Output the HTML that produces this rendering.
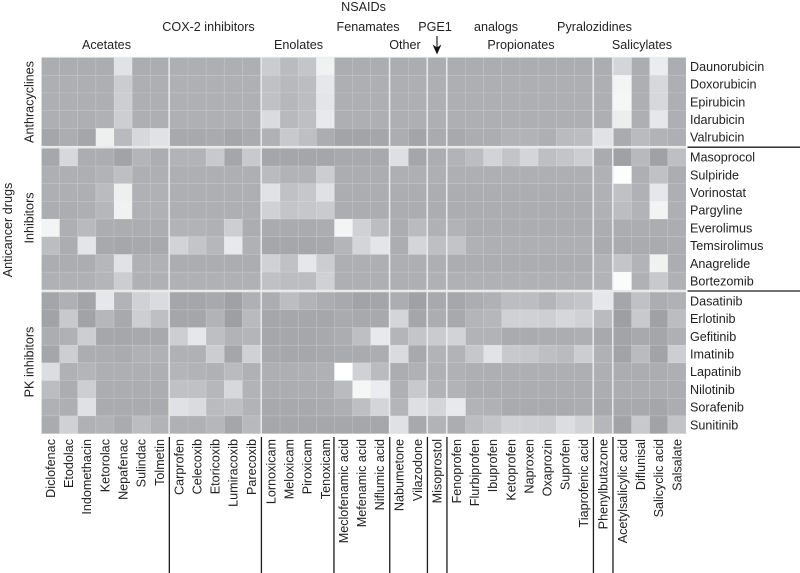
<!DOCTYPE html>
<html lang="en">
<head>
<meta charset="utf-8">
<title>Anticancer drugs and NSAIDs heatmap</title>
<style>
html,body{margin:0;padding:0;background:#fff;}
svg{display:block;font-family:"Liberation Sans",sans-serif;}
text{fill:#222;font-size:12.6px;}
</style>
</head>
<body>
<svg id="chart" width="800" height="573" viewBox="0 0 800 573" xmlns="http://www.w3.org/2000/svg">
  <g id="cells"></g>
  <g id="rules"></g>
  <g id="labels"></g>
  <g>
    <line x1="437" y1="36" x2="437" y2="50" stroke="#111" stroke-width="1.1"></line>
    <path d="M432.6 44.5 L437 54.5 L441.4 44.5 L437 47.5 Z" fill="#111"></path>
  </g>
</svg>
<script>
// Group sizes (number of members per group)
const columnGroupSizes = [7, 5, 7, 2, 1, 8, 1, 4];
const rowGroupSizes = [5, 8, 8];

const columnLabels = ["Diclofenac","Etodolac","Indomethacin","Ketorolac","Nepafenac","Sulindac","Tolmetin",
  "Carprofen","Celecoxib","Etoricoxib","Lumiracoxib","Parecoxib",
  "Lornoxicam","Meloxicam","Piroxicam","Tenoxicam","Meclofenamic acid","Mefenamic acid","Niflumic acid",
  "Nabumetone","Vilazodone","Misoprostol",
  "Fenoprofen","Flurbiprofen","Ibuprofen","Ketoprofen","Naproxen","Oxaprozin","Suprofen","Tiaprofenic acid",
  "Phenylbutazone","Acetylsalicylic acid","Diflunisal","Salicyclic acid","Salsalate"];
const rowLabels = ["Daunorubicin","Doxorubicin","Epirubicin","Idarubicin","Valrubicin",
  "Masoprocol","Sulpiride","Vorinostat","Pargyline","Everolimus","Temsirolimus","Anagrelide","Bortezomib",
  "Dasatinib","Erlotinib","Gefitinib","Imatinib","Lapatinib","Nilotinib","Sorafenib","Sunitinib"];

// Similarity values per drug (shade level)
const daunorubicin = [172,172,172,172,225,172,172, 174,174,174,174,174, 203,186,196,240, 172,172,172, 172,172, 172, 172,172,172,172,172,172,172,172, 172, 212,172,235,172];
const doxorubicin  = [174,174,174,174,203,174,174, 175,175,175,175,175, 192,184,188,230, 174,174,174, 174,174, 174, 174,174,174,174,174,174,174,174, 174, 243,174,215,174];
const epirubicin   = [174,174,174,174,205,174,174, 175,175,175,175,175, 192,182,188,228, 174,174,174, 174,174, 174, 174,174,174,174,174,174,174,174, 174, 245,174,215,174];
const idarubicin   = [174,174,174,176,205,174,174, 175,175,175,175,175, 218,184,190,232, 174,174,174, 174,174, 174, 174,174,174,174,174,174,174,174, 174, 236,174,230,174];
const valrubicin   = [165,172,165,238,185,215,225, 168,168,170,165,170, 176,200,190,172, 163,163,165, 172,164, 170, 168,172,172,178,178,174,186,188, 225, 170,186,178,174];
const masoprocol   = [166,215,172,172,162,180,172, 178,178,200,165,200, 165,165,165,165, 168,168,168, 222,165, 172, 178,188,210,195,212,190,196,205, 170, 160,184,160,190];
const sulpiride    = [174,174,174,178,190,174,174, 174,174,174,174,174, 186,178,178,204, 172,172,172, 174,174, 174, 174,174,174,174,174,174,174,174, 176, 252,174,192,172];
const vorinostat   = [174,174,174,186,238,176,176, 174,174,174,174,174, 225,192,198,224, 172,172,172, 172,172, 172, 172,172,172,172,172,172,172,172, 176, 192,176,230,174];
const pargyline    = [172,172,174,182,240,176,176, 174,174,174,174,174, 208,196,198,202, 172,172,172, 172,172, 172, 172,172,172,172,172,172,172,172, 176, 188,178,242,174];
const everolimus   = [243,174,185,172,172,172,172, 178,178,176,205,172, 170,170,170,172, 243,208,188, 172,186, 176, 178,172,172,172,172,172,172,172, 172, 172,172,172,172];
const temsirolimus = [188,172,228,168,166,168,168, 210,196,182,232,176, 166,166,166,168, 180,212,228, 172,212, 190, 195,176,174,174,174,174,174,174, 170, 170,170,170,172];
const anagrelide   = [172,172,172,182,225,176,176, 172,172,172,172,172, 208,192,230,204, 174,174,174, 174,174, 174, 172,172,172,172,172,172,172,172, 178, 196,178,240,172];
const bortezomib   = [176,176,176,180,204,176,176, 176,176,176,176,176, 192,188,188,208, 174,174,174, 174,174, 176, 176,176,176,176,176,176,176,176, 178, 250,176,200,176];
const dasatinib    = [164,175,163,230,178,208,218, 165,165,168,160,175, 172,188,178,172, 168,162,164, 172,160, 168, 166,172,176,188,188,180,192,196, 230, 165,192,172,176];
const erlotinib    = [162,200,162,182,168,205,190, 165,165,178,158,185, 166,166,166,166, 170,168,168, 212,165, 172, 168,180,182,208,208,206,214,208, 186, 158,200,160,188];
const gefitinib    = [172,176,205,166,166,168,168, 205,230,190,178,180, 166,166,166,168, 172,190,232, 180,196, 202, 210,178,178,170,170,172,172,174, 168, 163,168,165,175];
const imatinib     = [165,205,172,172,170,176,176, 176,176,204,165,208, 168,166,166,168, 170,170,172, 218,168, 178, 178,198,226,200,198,190,186,204, 176, 162,186,162,205];
const lapatinib    = [220,176,180,174,174,174,174, 180,178,176,186,176, 174,174,174,176, 255,208,186, 172,176, 176, 176,174,174,174,174,174,174,174, 174, 172,172,172,174];
const nilotinib    = [188,172,205,172,172,172,172, 192,192,182,215,178, 172,172,172,172, 186,245,235, 175,200, 178, 178,172,172,172,172,172,172,172, 172, 172,172,172,172];
const sorafenib    = [176,174,224,170,170,170,170, 224,218,186,190,178, 168,168,168,170, 174,190,212, 180,222, 212, 232,178,176,170,170,170,170,172, 168, 168,168,165,172];
const sunitinib    = [170,208,176,178,170,188,178, 176,176,182,165,184, 166,166,166,166, 166,166,166, 224,168, 178, 172,188,196,208,206,204,220,210, 182, 162,200,162,194];

const seriesByRow = [daunorubicin,doxorubicin,epirubicin,idarubicin,valrubicin,
  masoprocol,sulpiride,vorinostat,pargyline,everolimus,temsirolimus,anagrelide,bortezomib,
  dasatinib,erlotinib,gefitinib,imatinib,lapatinib,nilotinib,sorafenib,sunitinib];

const topGroupLabels = ["NSAIDs","COX-2 inhibitors","Fenamates","PGE1","analogs","Pyralozidines",
  "Acetates","Enolates","Other","Propionates","Salicylates"];
const rowGroupLabels = ["Anthracyclines","Inhibitors","PK inhibitors"];
const rowAxisTitle = "Anticancer drugs";

const NS = "http://www.w3.org/2000/svg";
const plot = {left: 41.5, right: 686, top: 57.6, bottom: 433.6, gap: 1.4};

function buildBand(groupSizes, start, end, gap) {
  const count = groupSizes.reduce((a, b) => a + b, 0);
  const step = (end - start - gap * (groupSizes.length - 1)) / count;
  const starts = [];
  let pos = start;
  const groupEnds = [];
  groupSizes.forEach((size, g) => {
    for (let i = 0; i < size; i++) { starts.push(pos); pos += step; }
    groupEnds.push(pos);
    if (g < groupSizes.length - 1) pos += gap;
  });
  return {step, starts, groupEnds};
}
const xBand = buildBand(columnGroupSizes, plot.left, plot.right, plot.gap);
const yBand = buildBand(rowGroupSizes, plot.top, plot.bottom, plot.gap + 1);

function xScale(col) { return xBand.starts[col]; }
function yScale(row) { return yBand.starts[row]; }
function colorScale(v) {
  const c = Math.max(0, Math.min(255, Math.round(v)));
  const tint = c > 235 ? 1 : 4;
  return "rgb(" + c + "," + Math.min(255, c + 1) + "," + Math.min(255, c + tint) + ")";
}

const cellsGroup = document.getElementById("cells");
const rulesGroup = document.getElementById("rules");
const labelsGroup = document.getElementById("labels");

const backing = document.createElementNS(NS, "rect");


backing.setAttribute("x", plot.left);
backing.setAttribute("y", plot.top - 0.8);
backing.setAttribute("width", plot.right - plot.left);
backing.setAttribute("height", plot.bottom - plot.top + 1.2);
backing.setAttribute("fill", "#e9e9ea");
cellsGroup.appendChild(backing);

seriesByRow.forEach((series, r) => {
  series.forEach((value, c) => {
    const cell = document.createElementNS(NS, "rect");
    
    
    cell.setAttribute("x", xScale(c));
    cell.setAttribute("y", yScale(r));
    cell.setAttribute("width", xBand.step);
    cell.setAttribute("height", yBand.step);
    cell.setAttribute("fill", colorScale(value));
    cell.setAttribute("stroke", "rgba(255,255,255,0.13)");
    cell.setAttribute("stroke-width", "0.7");
    cellsGroup.appendChild(cell);
  });
});

function addText(str, x, y, rotate, anchor, name) {
  const t = document.createElementNS(NS, "text");
  
  
  t.setAttribute("text-anchor", anchor);
  if (rotate) {
    t.setAttribute("transform", "translate(" + x + "," + y + ") rotate(-90)");
  } else {
    t.setAttribute("x", x);
    t.setAttribute("y", y);
  }
  t.textContent = str;
  labelsGroup.appendChild(t);
  return t;
}
function slug(s) { return s.toLowerCase().replace(/[^a-z0-9]+/g, "-"); }

columnLabels.forEach((label, c) => {
  addText(label, xScale(c) + xBand.step / 2 + 4.4, 439, true, "end", "column-label-" + slug(label));
});
rowLabels.forEach((label, r) => {
  addText(label, 690, yScale(r) + yBand.step / 2 + 4.5, false, "start", "row-label-" + slug(label));
});

// Top group header placement, in reading order of topGroupLabels
const topHeaderAnchors = [[363.5, 11],[208.5, 31],[368, 31],[435, 31],[496, 31],[594.5, 31],
  [106.5, 49],[298.5, 49],[405, 49],[521, 49],[642, 49]];
topGroupLabels.forEach((label, i) => {
  addText(label, topHeaderAnchors[i][0], topHeaderAnchors[i][1], false, "middle", "group-label-" + slug(label));
});

// Row-group titles are centred on their row spans, nudged to match the reference
const rowGroupCentres = [102, 218, 362];
rowGroupLabels.forEach((label, i) => {
  addText(label, 33.6, rowGroupCentres[i], true, "middle", "row-group-label-" + slug(label));
});
addText(rowAxisTitle, 12.2, 230, true, "middle", "row-axis-title");

function addRule(x1, y1, x2, y2, name) {
  const l = document.createElementNS(NS, "line");
  
  
  l.setAttribute("x1", x1);
  l.setAttribute("y1", y1);
  l.setAttribute("x2", x2);
  l.setAttribute("y2", y2);
  l.setAttribute("stroke", "#1c1c1c");
  l.setAttribute("stroke-width", "1.3");
  rulesGroup.appendChild(l);
}
// Vertical rules below the heatmap, at column-group edges plus the enolate/fenamate split
const ruleColumns = [7, 12, 16, 19, 21, 22, 30, 31];
ruleColumns.forEach((c) => {
  addRule(xScale(c) - 0.5, 437, xScale(c) - 0.5, 573, "column-group-rule-" + c);
});
// Horizontal rules to the right of the heatmap, at row-group edges
const ruleRows = [5, 13];
ruleRows.forEach((r) => {
  addRule(687.5, yScale(r) - 1.2, 800, yScale(r) - 1.2, "row-group-rule-" + r);
});
</script>
</body>
</html>
